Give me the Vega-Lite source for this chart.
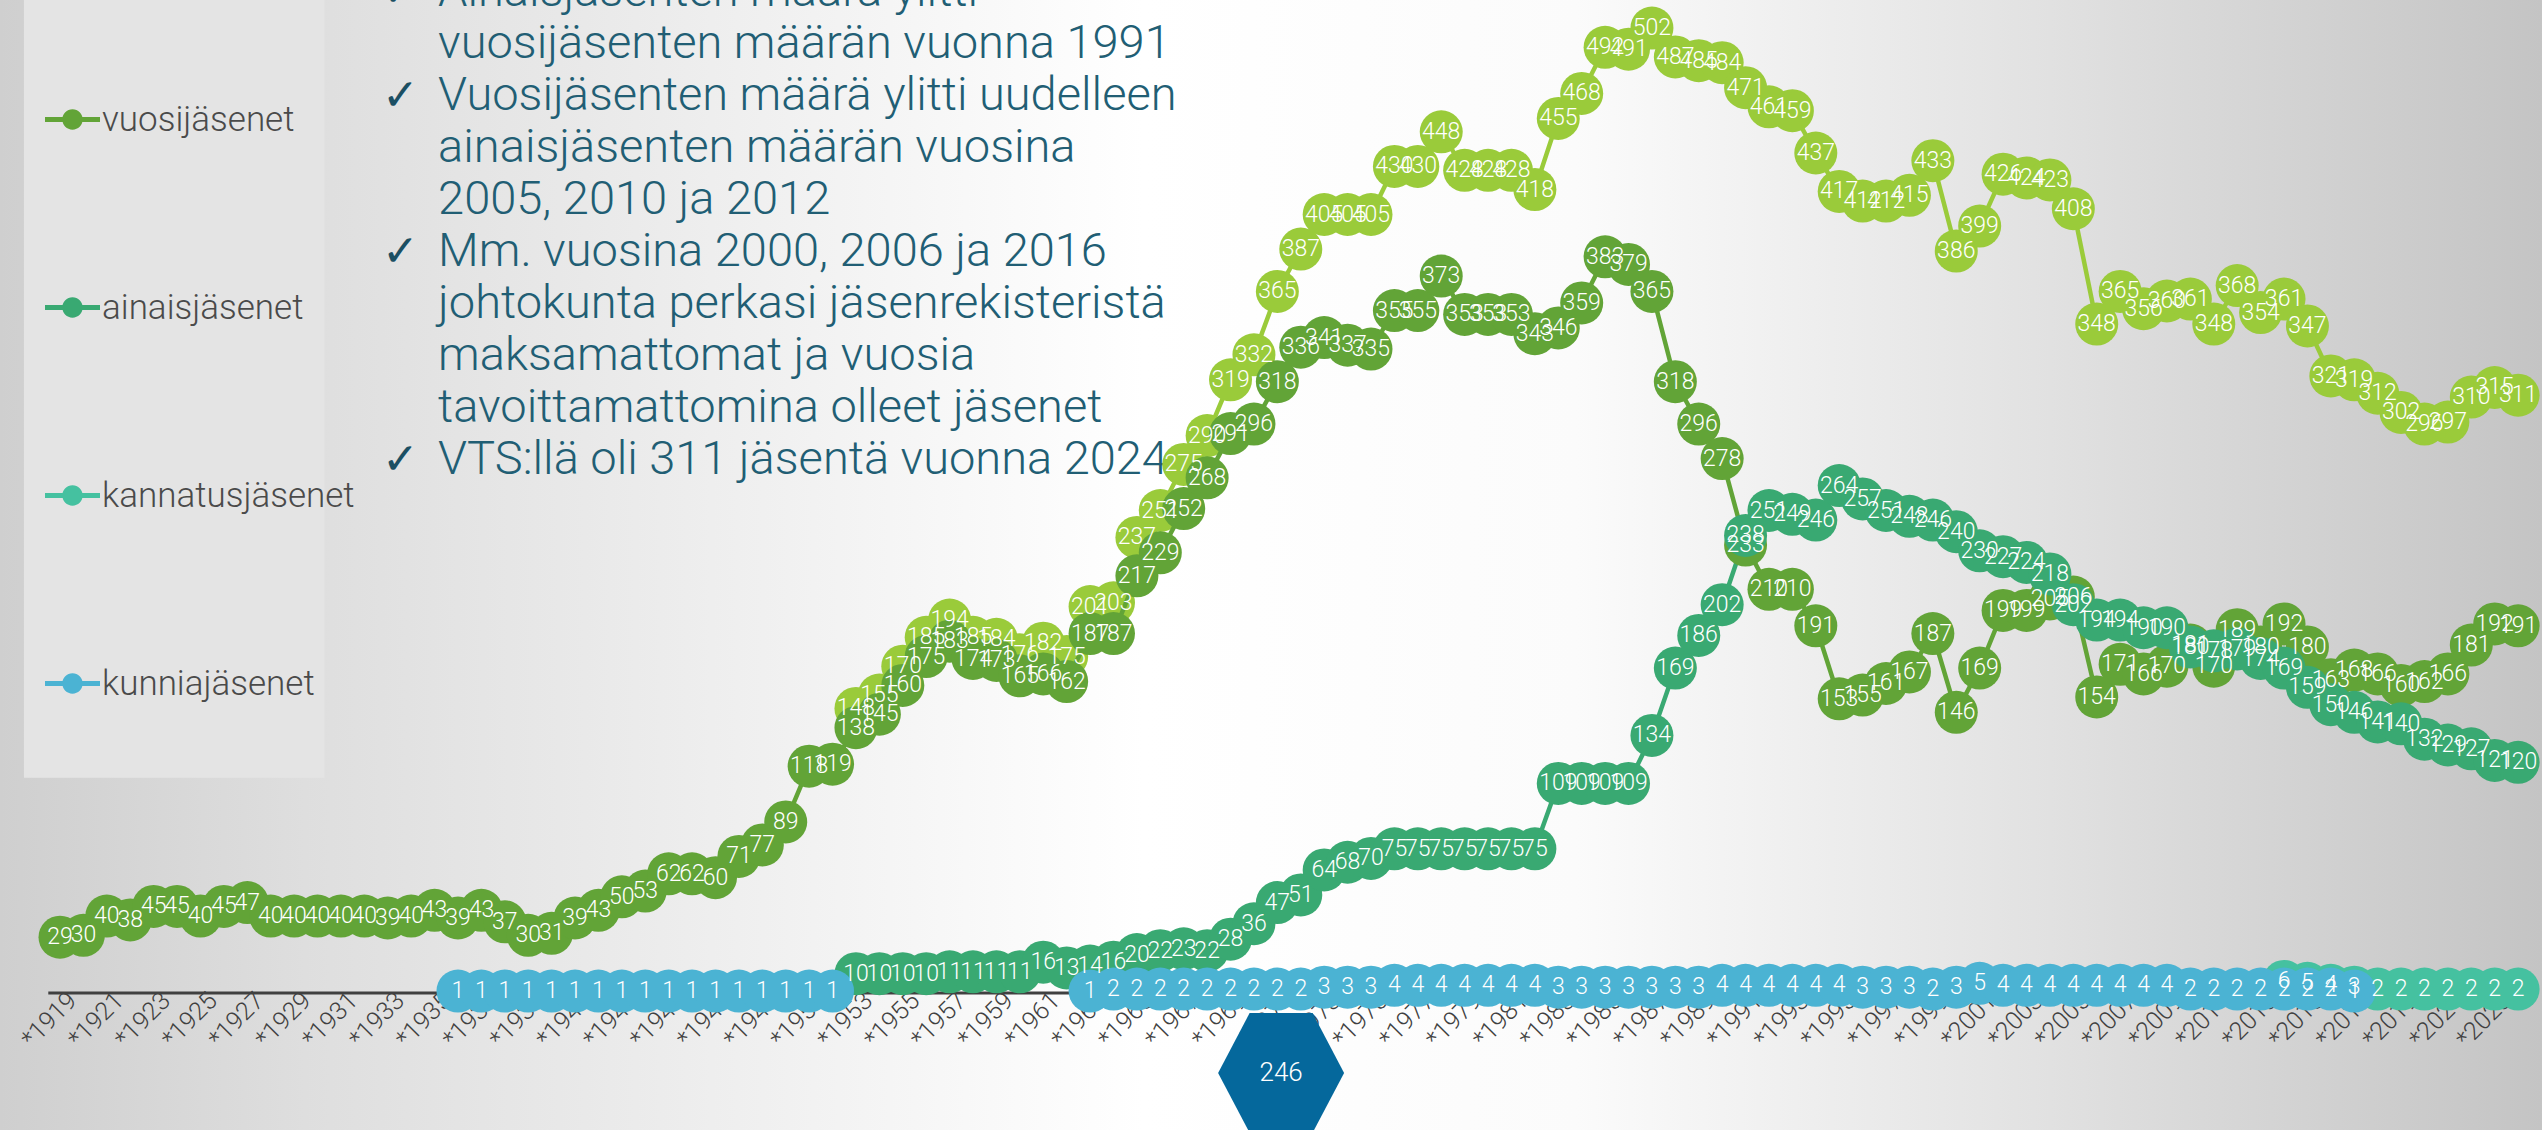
{
  "$schema": "https://vega.github.io/schema/vega-lite/v6.json",
  "width": 2542,
  "height": 1130,
  "autosize": {"type": "none"},
  "padding": 0,
  "background": "#d9d9d9",
  "config": {
    "view": {
      "stroke": null,
      "fill": {
        "gradient": "linear", "x1": 0, "y1": 0, "x2": 1, "y2": 0,
        "stops": [
          {"offset": 0, "color": "#cfcfcf"},
          {"offset": 0.12, "color": "#dedede"},
          {"offset": 0.3, "color": "#f0f0f0"},
          {"offset": 0.45, "color": "#ffffff"},
          {"offset": 0.62, "color": "#fbfbfb"},
          {"offset": 0.8, "color": "#e2e2e2"},
          {"offset": 1, "color": "#c4c4c4"}
        ]
      }
    },
    "font": "Roboto"
  },
  "datasets": {
    "members": [
      {"year":1919,"series":"vuosijäsenet","count":29},{"year":1920,"series":"vuosijäsenet","count":30},{"year":1921,"series":"vuosijäsenet","count":40},{"year":1922,"series":"vuosijäsenet","count":38},{"year":1923,"series":"vuosijäsenet","count":45},{"year":1924,"series":"vuosijäsenet","count":45},{"year":1925,"series":"vuosijäsenet","count":40},{"year":1926,"series":"vuosijäsenet","count":45},{"year":1927,"series":"vuosijäsenet","count":47},{"year":1928,"series":"vuosijäsenet","count":40},{"year":1929,"series":"vuosijäsenet","count":40},{"year":1930,"series":"vuosijäsenet","count":40},{"year":1931,"series":"vuosijäsenet","count":40},{"year":1932,"series":"vuosijäsenet","count":40},{"year":1933,"series":"vuosijäsenet","count":39},{"year":1934,"series":"vuosijäsenet","count":40},
      {"year":1935,"series":"vuosijäsenet","count":43},{"year":1936,"series":"vuosijäsenet","count":39},{"year":1937,"series":"vuosijäsenet","count":43},{"year":1938,"series":"vuosijäsenet","count":37},{"year":1939,"series":"vuosijäsenet","count":30},{"year":1940,"series":"vuosijäsenet","count":31},{"year":1941,"series":"vuosijäsenet","count":39},{"year":1942,"series":"vuosijäsenet","count":43},{"year":1943,"series":"vuosijäsenet","count":50},{"year":1944,"series":"vuosijäsenet","count":53},{"year":1945,"series":"vuosijäsenet","count":62},{"year":1946,"series":"vuosijäsenet","count":62},{"year":1947,"series":"vuosijäsenet","count":60},{"year":1948,"series":"vuosijäsenet","count":71},{"year":1949,"series":"vuosijäsenet","count":77},{"year":1950,"series":"vuosijäsenet","count":89},{"year":1951,"series":"vuosijäsenet","count":118},{"year":1952,"series":"vuosijäsenet","count":119},
      {"year":1953,"series":"vuosijäsenet","count":138},{"year":1954,"series":"vuosijäsenet","count":145},{"year":1955,"series":"vuosijäsenet","count":160},{"year":1956,"series":"vuosijäsenet","count":175},{"year":1957,"series":"vuosijäsenet","count":183},{"year":1958,"series":"vuosijäsenet","count":174},{"year":1959,"series":"vuosijäsenet","count":173},{"year":1960,"series":"vuosijäsenet","count":165},{"year":1961,"series":"vuosijäsenet","count":166},{"year":1962,"series":"vuosijäsenet","count":162},
      {"year":1963,"series":"vuosijäsenet","count":187},{"year":1964,"series":"vuosijäsenet","count":187},{"year":1965,"series":"vuosijäsenet","count":217},{"year":1966,"series":"vuosijäsenet","count":229},{"year":1967,"series":"vuosijäsenet","count":252},{"year":1968,"series":"vuosijäsenet","count":268},{"year":1969,"series":"vuosijäsenet","count":291},{"year":1970,"series":"vuosijäsenet","count":296},{"year":1971,"series":"vuosijäsenet","count":318},{"year":1972,"series":"vuosijäsenet","count":336},
      {"year":1973,"series":"vuosijäsenet","count":341},{"year":1974,"series":"vuosijäsenet","count":337},{"year":1975,"series":"vuosijäsenet","count":335},{"year":1976,"series":"vuosijäsenet","count":355},{"year":1977,"series":"vuosijäsenet","count":355},{"year":1978,"series":"vuosijäsenet","count":373},{"year":1979,"series":"vuosijäsenet","count":353},{"year":1980,"series":"vuosijäsenet","count":353},{"year":1981,"series":"vuosijäsenet","count":353},{"year":1982,"series":"vuosijäsenet","count":343},
      {"year":1983,"series":"vuosijäsenet","count":346},{"year":1984,"series":"vuosijäsenet","count":359},{"year":1985,"series":"vuosijäsenet","count":383},{"year":1986,"series":"vuosijäsenet","count":379},{"year":1987,"series":"vuosijäsenet","count":365},{"year":1988,"series":"vuosijäsenet","count":318},{"year":1989,"series":"vuosijäsenet","count":296},{"year":1990,"series":"vuosijäsenet","count":278},{"year":1991,"series":"vuosijäsenet","count":233},{"year":1992,"series":"vuosijäsenet","count":210},
      {"year":1993,"series":"vuosijäsenet","count":210},{"year":1994,"series":"vuosijäsenet","count":191},{"year":1995,"series":"vuosijäsenet","count":153},{"year":1996,"series":"vuosijäsenet","count":155},{"year":1997,"series":"vuosijäsenet","count":161},{"year":1998,"series":"vuosijäsenet","count":167},{"year":1999,"series":"vuosijäsenet","count":187},{"year":2000,"series":"vuosijäsenet","count":146},{"year":2001,"series":"vuosijäsenet","count":169},{"year":2002,"series":"vuosijäsenet","count":199},
      {"year":2003,"series":"vuosijäsenet","count":199},{"year":2004,"series":"vuosijäsenet","count":205},{"year":2005,"series":"vuosijäsenet","count":206},{"year":2006,"series":"vuosijäsenet","count":154},{"year":2007,"series":"vuosijäsenet","count":171},{"year":2008,"series":"vuosijäsenet","count":166},{"year":2009,"series":"vuosijäsenet","count":170},{"year":2010,"series":"vuosijäsenet","count":181},{"year":2011,"series":"vuosijäsenet","count":170},{"year":2012,"series":"vuosijäsenet","count":189},
      {"year":2013,"series":"vuosijäsenet","count":180},{"year":2014,"series":"vuosijäsenet","count":192},{"year":2015,"series":"vuosijäsenet","count":180},{"year":2016,"series":"vuosijäsenet","count":163},{"year":2017,"series":"vuosijäsenet","count":168},{"year":2018,"series":"vuosijäsenet","count":166},{"year":2019,"series":"vuosijäsenet","count":160},{"year":2020,"series":"vuosijäsenet","count":162},{"year":2021,"series":"vuosijäsenet","count":166},{"year":2022,"series":"vuosijäsenet","count":181},{"year":2023,"series":"vuosijäsenet","count":192},{"year":2024,"series":"vuosijäsenet","count":191},

      {"year":1953,"series":"ainaisjäsenet","count":10},{"year":1954,"series":"ainaisjäsenet","count":10},{"year":1955,"series":"ainaisjäsenet","count":10},{"year":1956,"series":"ainaisjäsenet","count":10},{"year":1957,"series":"ainaisjäsenet","count":11},{"year":1958,"series":"ainaisjäsenet","count":11},{"year":1959,"series":"ainaisjäsenet","count":11},{"year":1960,"series":"ainaisjäsenet","count":11},{"year":1961,"series":"ainaisjäsenet","count":16},{"year":1962,"series":"ainaisjäsenet","count":13},
      {"year":1963,"series":"ainaisjäsenet","count":14},{"year":1964,"series":"ainaisjäsenet","count":16},{"year":1965,"series":"ainaisjäsenet","count":20},{"year":1966,"series":"ainaisjäsenet","count":22},{"year":1967,"series":"ainaisjäsenet","count":23},{"year":1968,"series":"ainaisjäsenet","count":22},{"year":1969,"series":"ainaisjäsenet","count":28},{"year":1970,"series":"ainaisjäsenet","count":36},{"year":1971,"series":"ainaisjäsenet","count":47},{"year":1972,"series":"ainaisjäsenet","count":51},
      {"year":1973,"series":"ainaisjäsenet","count":64},{"year":1974,"series":"ainaisjäsenet","count":68},{"year":1975,"series":"ainaisjäsenet","count":70},{"year":1976,"series":"ainaisjäsenet","count":75},{"year":1977,"series":"ainaisjäsenet","count":75},{"year":1978,"series":"ainaisjäsenet","count":75},{"year":1979,"series":"ainaisjäsenet","count":75},{"year":1980,"series":"ainaisjäsenet","count":75},{"year":1981,"series":"ainaisjäsenet","count":75},{"year":1982,"series":"ainaisjäsenet","count":75},
      {"year":1983,"series":"ainaisjäsenet","count":109},{"year":1984,"series":"ainaisjäsenet","count":109},{"year":1985,"series":"ainaisjäsenet","count":109},{"year":1986,"series":"ainaisjäsenet","count":109},{"year":1987,"series":"ainaisjäsenet","count":134},{"year":1988,"series":"ainaisjäsenet","count":169},{"year":1989,"series":"ainaisjäsenet","count":186},{"year":1990,"series":"ainaisjäsenet","count":202},{"year":1991,"series":"ainaisjäsenet","count":238},{"year":1992,"series":"ainaisjäsenet","count":251},
      {"year":1993,"series":"ainaisjäsenet","count":249},{"year":1994,"series":"ainaisjäsenet","count":246},{"year":1995,"series":"ainaisjäsenet","count":264},{"year":1996,"series":"ainaisjäsenet","count":257},{"year":1997,"series":"ainaisjäsenet","count":251},{"year":1998,"series":"ainaisjäsenet","count":248},{"year":1999,"series":"ainaisjäsenet","count":246},{"year":2000,"series":"ainaisjäsenet","count":240},{"year":2001,"series":"ainaisjäsenet","count":230},{"year":2002,"series":"ainaisjäsenet","count":227},
      {"year":2003,"series":"ainaisjäsenet","count":224},{"year":2004,"series":"ainaisjäsenet","count":218},{"year":2005,"series":"ainaisjäsenet","count":202},{"year":2006,"series":"ainaisjäsenet","count":194},{"year":2007,"series":"ainaisjäsenet","count":194},{"year":2008,"series":"ainaisjäsenet","count":190},{"year":2009,"series":"ainaisjäsenet","count":190},{"year":2010,"series":"ainaisjäsenet","count":180},{"year":2011,"series":"ainaisjäsenet","count":178},{"year":2012,"series":"ainaisjäsenet","count":179},
      {"year":2013,"series":"ainaisjäsenet","count":174},{"year":2014,"series":"ainaisjäsenet","count":169},{"year":2015,"series":"ainaisjäsenet","count":159},{"year":2016,"series":"ainaisjäsenet","count":150},{"year":2017,"series":"ainaisjäsenet","count":146},{"year":2018,"series":"ainaisjäsenet","count":141},{"year":2019,"series":"ainaisjäsenet","count":140},{"year":2020,"series":"ainaisjäsenet","count":132},{"year":2021,"series":"ainaisjäsenet","count":129},{"year":2022,"series":"ainaisjäsenet","count":127},{"year":2023,"series":"ainaisjäsenet","count":121},{"year":2024,"series":"ainaisjäsenet","count":120},

      {"year":2014,"series":"kannatusjäsenet","count":6},{"year":2015,"series":"kannatusjäsenet","count":5},{"year":2016,"series":"kannatusjäsenet","count":4},{"year":2017,"series":"kannatusjäsenet","count":3},{"year":2018,"series":"kannatusjäsenet","count":2},{"year":2019,"series":"kannatusjäsenet","count":2},{"year":2020,"series":"kannatusjäsenet","count":2},{"year":2021,"series":"kannatusjäsenet","count":2},{"year":2022,"series":"kannatusjäsenet","count":2},{"year":2023,"series":"kannatusjäsenet","count":2},{"year":2024,"series":"kannatusjäsenet","count":2},

      {"year":1936,"series":"kunniajäsenet","count":1},{"year":1937,"series":"kunniajäsenet","count":1},{"year":1938,"series":"kunniajäsenet","count":1},{"year":1939,"series":"kunniajäsenet","count":1},{"year":1940,"series":"kunniajäsenet","count":1},{"year":1941,"series":"kunniajäsenet","count":1},{"year":1942,"series":"kunniajäsenet","count":1},{"year":1943,"series":"kunniajäsenet","count":1},{"year":1944,"series":"kunniajäsenet","count":1},{"year":1945,"series":"kunniajäsenet","count":1},{"year":1946,"series":"kunniajäsenet","count":1},{"year":1947,"series":"kunniajäsenet","count":1},{"year":1948,"series":"kunniajäsenet","count":1},{"year":1949,"series":"kunniajäsenet","count":1},{"year":1950,"series":"kunniajäsenet","count":1},{"year":1951,"series":"kunniajäsenet","count":1},{"year":1952,"series":"kunniajäsenet","count":1},
      {"year":1953,"series":"kunniajäsenet","count":null},{"year":1954,"series":"kunniajäsenet","count":null},{"year":1955,"series":"kunniajäsenet","count":null},{"year":1956,"series":"kunniajäsenet","count":null},{"year":1957,"series":"kunniajäsenet","count":null},{"year":1958,"series":"kunniajäsenet","count":null},{"year":1959,"series":"kunniajäsenet","count":null},{"year":1960,"series":"kunniajäsenet","count":null},{"year":1961,"series":"kunniajäsenet","count":null},{"year":1962,"series":"kunniajäsenet","count":null},
      {"year":1963,"series":"kunniajäsenet","count":1},{"year":1964,"series":"kunniajäsenet","count":2},{"year":1965,"series":"kunniajäsenet","count":2},{"year":1966,"series":"kunniajäsenet","count":2},{"year":1967,"series":"kunniajäsenet","count":2},{"year":1968,"series":"kunniajäsenet","count":2},{"year":1969,"series":"kunniajäsenet","count":2},{"year":1970,"series":"kunniajäsenet","count":2},{"year":1971,"series":"kunniajäsenet","count":2},{"year":1972,"series":"kunniajäsenet","count":2},
      {"year":1973,"series":"kunniajäsenet","count":3},{"year":1974,"series":"kunniajäsenet","count":3},{"year":1975,"series":"kunniajäsenet","count":3},{"year":1976,"series":"kunniajäsenet","count":4},{"year":1977,"series":"kunniajäsenet","count":4},{"year":1978,"series":"kunniajäsenet","count":4},{"year":1979,"series":"kunniajäsenet","count":4},{"year":1980,"series":"kunniajäsenet","count":4},{"year":1981,"series":"kunniajäsenet","count":4},{"year":1982,"series":"kunniajäsenet","count":4},
      {"year":1983,"series":"kunniajäsenet","count":3},{"year":1984,"series":"kunniajäsenet","count":3},{"year":1985,"series":"kunniajäsenet","count":3},{"year":1986,"series":"kunniajäsenet","count":3},{"year":1987,"series":"kunniajäsenet","count":3},{"year":1988,"series":"kunniajäsenet","count":3},{"year":1989,"series":"kunniajäsenet","count":3},{"year":1990,"series":"kunniajäsenet","count":4},{"year":1991,"series":"kunniajäsenet","count":4},{"year":1992,"series":"kunniajäsenet","count":4},
      {"year":1993,"series":"kunniajäsenet","count":4},{"year":1994,"series":"kunniajäsenet","count":4},{"year":1995,"series":"kunniajäsenet","count":4},{"year":1996,"series":"kunniajäsenet","count":3},{"year":1997,"series":"kunniajäsenet","count":3},{"year":1998,"series":"kunniajäsenet","count":3},{"year":1999,"series":"kunniajäsenet","count":2},{"year":2000,"series":"kunniajäsenet","count":3},{"year":2001,"series":"kunniajäsenet","count":5},{"year":2002,"series":"kunniajäsenet","count":4},
      {"year":2003,"series":"kunniajäsenet","count":4},{"year":2004,"series":"kunniajäsenet","count":4},{"year":2005,"series":"kunniajäsenet","count":4},{"year":2006,"series":"kunniajäsenet","count":4},{"year":2007,"series":"kunniajäsenet","count":4},{"year":2008,"series":"kunniajäsenet","count":4},{"year":2009,"series":"kunniajäsenet","count":4},{"year":2010,"series":"kunniajäsenet","count":2},{"year":2011,"series":"kunniajäsenet","count":2},{"year":2012,"series":"kunniajäsenet","count":2},
      {"year":2013,"series":"kunniajäsenet","count":2},{"year":2014,"series":"kunniajäsenet","count":2},{"year":2015,"series":"kunniajäsenet","count":2},{"year":2016,"series":"kunniajäsenet","count":2},{"year":2017,"series":"kunniajäsenet","count":1}
    ],
    "total": [
      {"year":1953,"count":148},{"year":1954,"count":155},{"year":1955,"count":170},{"year":1956,"count":185},{"year":1957,"count":194},{"year":1958,"count":185},{"year":1959,"count":184},{"year":1960,"count":176},{"year":1961,"count":182},{"year":1962,"count":175},
      {"year":1963,"count":201},{"year":1964,"count":203},{"year":1965,"count":237},{"year":1966,"count":251},{"year":1967,"count":275},{"year":1968,"count":290},{"year":1969,"count":319},{"year":1970,"count":332},{"year":1971,"count":365},{"year":1972,"count":387},
      {"year":1973,"count":405},{"year":1974,"count":405},{"year":1975,"count":405},{"year":1976,"count":430},{"year":1977,"count":430},{"year":1978,"count":448},{"year":1979,"count":428},{"year":1980,"count":428},{"year":1981,"count":428},{"year":1982,"count":418},
      {"year":1983,"count":455},{"year":1984,"count":468},{"year":1985,"count":492},{"year":1986,"count":491},{"year":1987,"count":502},{"year":1988,"count":487},{"year":1989,"count":485},{"year":1990,"count":484},{"year":1991,"count":471},{"year":1992,"count":461},
      {"year":1993,"count":459},{"year":1994,"count":437},{"year":1995,"count":417},{"year":1996,"count":412},{"year":1997,"count":412},{"year":1998,"count":415},{"year":1999,"count":433},{"year":2000,"count":386},{"year":2001,"count":399},{"year":2002,"count":426},
      {"year":2003,"count":424},{"year":2004,"count":423},{"year":2005,"count":408},{"year":2006,"count":348},{"year":2007,"count":365},{"year":2008,"count":356},{"year":2009,"count":360},{"year":2010,"count":361},{"year":2011,"count":348},{"year":2012,"count":368},
      {"year":2013,"count":354},{"year":2014,"count":361},{"year":2015,"count":347},{"year":2016,"count":321},{"year":2017,"count":319},{"year":2018,"count":312},{"year":2019,"count":302},{"year":2020,"count":296},{"year":2021,"count":297},{"year":2022,"count":310},{"year":2023,"count":315},{"year":2024,"count":311}
    ]
  },
  "layer": [
    {
      "data": {"values": [{}]},
      "mark": {"type": "rect", "color": "#e4e4e4"},
      "encoding": {
        "x": {
          "datum": 1917.46, "type": "quantitative",
          "scale": {"domain": [1916.437, 2025.02], "nice": false, "zero": false},
          "axis": {
            "title": null,
            "values": [1919,1921,1923,1925,1927,1929,1931,1933,1935,1937,1939,1941,1943,1945,1947,1949,1951,1953,1955,1957,1959,1961,1963,1965,1967,1969,1971,1973,1975,1977,1979,1981,1983,1985,1987,1989,1991,1993,1995,1997,1999,2001,2003,2005,2007,2009,2011,2013,2015,2017,2019,2021,2023],
            "labelExpr": "'*' + datum.value",
            "labelAngle": -45,
            "labelAlign": "right",
            "labelBaseline": "middle",
            "labelFontSize": 25,
            "labelFont": "Roboto",
            "labelFontWeight": 300,
            "labelColor": "#404040",
            "labelPadding": 3,
            "labelOffset": 12,
            "labelOverlap": false,
            "labelFlush": false,
            "labelBound": false,
            "ticks": false,
            "domain": false,
            "grid": false,
            "offset": -137
          }
        },
        "x2": {"datum": 1930.3},
        "y": {
          "datum": 530, "type": "quantitative",
          "scale": {"domain": [-71.3, 516.6], "nice": false, "zero": false},
          "axis": null
        },
        "y2": {"datum": 112}
      }
    },
    {
      "data": {"values": [{}]},
      "mark": {"type": "rule", "color": "#404040", "strokeWidth": 3},
      "encoding": {
        "x": {"datum": 1918.5, "type": "quantitative"},
        "x2": {"datum": 2024.5},
        "y": {"datum": 0, "type": "quantitative"}
      }
    },
    {
      "data": {"values": [{}]},
      "mark": {
        "type": "text",
        "text": ["Ainaisjäsenten määrä ylitti", "vuosijäsenten määrän vuonna 1991", "Vuosijäsenten määrä ylitti uudelleen", "ainaisjäsenten määrän vuosina", "2005, 2010 ja 2012", "Mm. vuosina 2000, 2006 ja 2016", "johtokunta perkasi jäsenrekisteristä", "maksamattomat ja vuosia", "tavoittamattomina olleet jäsenet", "VTS:llä oli 311 jäsentä vuonna 2024"],
        "align": "left",
        "baseline": "alphabetic",
        "lineHeight": 52,
        "font": "Roboto",
        "fontWeight": 300,
        "fontSize": 47,
        "color": "#215e74"
      },
      "encoding": {
        "x": {"datum": 1935.15, "type": "quantitative"},
        "y": {"datum": 513.5, "type": "quantitative"}
      }
    },
    {
      "data": {"values": [{"mark": "✓"}]},
      "mark": {"type": "text", "align": "left", "baseline": "alphabetic", "font": "DejaVu Sans", "fontSize": 44, "color": "#1b4f63"},
      "encoding": {
        "x": {"datum": 1932.75, "type": "quantitative"},
        "y": {"datum": 513.5, "type": "quantitative"},
        "text": {"field": "mark", "type": "nominal"}
      }
    },
    {
      "data": {"values": [{"mark": "✓"}]},
      "mark": {"type": "text", "align": "left", "baseline": "alphabetic", "font": "DejaVu Sans", "fontSize": 44, "color": "#1b4f63"},
      "encoding": {
        "x": {"datum": 1932.75, "type": "quantitative"},
        "y": {"datum": 459.39, "type": "quantitative"},
        "text": {"field": "mark", "type": "nominal"}
      }
    },
    {
      "data": {"values": [{"mark": "✓"}]},
      "mark": {"type": "text", "align": "left", "baseline": "alphabetic", "font": "DejaVu Sans", "fontSize": 44, "color": "#1b4f63"},
      "encoding": {
        "x": {"datum": 1932.75, "type": "quantitative"},
        "y": {"datum": 378.23, "type": "quantitative"},
        "text": {"field": "mark", "type": "nominal"}
      }
    },
    {
      "data": {"values": [{"mark": "✓"}]},
      "mark": {"type": "text", "align": "left", "baseline": "alphabetic", "font": "DejaVu Sans", "fontSize": 44, "color": "#1b4f63"},
      "encoding": {
        "x": {"datum": 1932.75, "type": "quantitative"},
        "y": {"datum": 270.01, "type": "quantitative"},
        "text": {"field": "mark", "type": "nominal"}
      }
    },
    {
      "data": {"name": "total"},
      "mark": {"type": "line", "color": "#9acb3a", "strokeWidth": 4.5},
      "encoding": {
        "x": {"field": "year", "type": "quantitative"},
        "y": {"field": "count", "type": "quantitative"}
      }
    },
    {
      "data": {"name": "total"},
      "mark": {"type": "point", "shape": "circle", "filled": true, "opacity": 1, "size": 1849, "color": "#9acb3a"},
      "encoding": {
        "x": {"field": "year", "type": "quantitative"},
        "y": {"field": "count", "type": "quantitative"}
      }
    },
    {
      "data": {"name": "members"},
      "mark": {"type": "line", "strokeWidth": 4.5, "invalid": "break-paths-show-domains"},
      "encoding": {
        "x": {"field": "year", "type": "quantitative"},
        "y": {"field": "count", "type": "quantitative"},
        "color": {
          "field": "series", "type": "nominal",
          "scale": {"domain": ["vuosijäsenet", "ainaisjäsenet", "kannatusjäsenet", "kunniajäsenet"], "range": ["#62a437", "#39a972", "#45c1a0", "#4bb3d3"]},
          "legend": {
            "orient": "none",
            "legendX": 45,
            "legendY": 92,
            "title": null,
            "direction": "vertical",
            "padding": 0,
            "symbolType": "M-1,-0.09H1V0.09H-1Z M-0.37,0A0.37,0.37 0 1,1 0.37,0A0.37,0.37 0 1,1 -0.37,0Z",
            "symbolSize": 3025,
            "symbolStrokeWidth": 0,
            "symbolOpacity": 1,
            "labelFontSize": 35,
            "labelFont": "Roboto",
            "labelFontWeight": 300,
            "labelColor": "#4a4a4a",
            "labelOffset": 2,
            "labelLimit": 400,
            "rowPadding": 142
          }
        }
      }
    },
    {
      "data": {"name": "members"},
      "mark": {"type": "point", "shape": "circle", "filled": true, "opacity": 1, "size": 1849},
      "encoding": {
        "x": {"field": "year", "type": "quantitative"},
        "y": {"field": "count", "type": "quantitative"},
        "color": {
          "field": "series", "type": "nominal",
          "legend": {
            "orient": "none",
            "legendX": 45,
            "legendY": 92,
            "title": null,
            "direction": "vertical",
            "padding": 0,
            "symbolType": "M-1,-0.09H1V0.09H-1Z M-0.37,0A0.37,0.37 0 1,1 0.37,0A0.37,0.37 0 1,1 -0.37,0Z",
            "symbolSize": 3025,
            "symbolStrokeWidth": 0,
            "symbolOpacity": 1,
            "labelFontSize": 35,
            "labelFont": "Roboto",
            "labelFontWeight": 300,
            "labelColor": "#4a4a4a",
            "labelOffset": 2,
            "labelLimit": 400,
            "rowPadding": 142
          }
        }
      }
    },
    {
      "data": {"name": "total"},
      "mark": {"type": "text", "color": "#ffffff", "fontSize": 23, "font": "Roboto", "fontWeight": 300, "align": "center", "baseline": "middle"},
      "encoding": {
        "x": {"field": "year", "type": "quantitative"},
        "y": {"field": "count", "type": "quantitative"},
        "text": {"field": "count", "type": "quantitative"}
      }
    },
    {
      "data": {"name": "members"},
      "mark": {"type": "text", "color": "#ffffff", "fontSize": 23, "font": "Roboto", "fontWeight": 300, "align": "center", "baseline": "middle"},
      "encoding": {
        "x": {"field": "year", "type": "quantitative"},
        "y": {"field": "count", "type": "quantitative"},
        "text": {"field": "count", "type": "quantitative"}
      }
    },
    {
      "data": {"values": [{"page": "246"}]},
      "mark": {"type": "point", "shape": "M-1,0L-0.5,-0.95L0.5,-0.95L1,0L0.5,0.95L-0.5,0.95Z", "filled": true, "opacity": 1, "size": 15876, "color": "#05689c"},
      "encoding": {
        "x": {"datum": 1971.16, "type": "quantitative"},
        "y": {"datum": -41.6, "type": "quantitative"}
      }
    },
    {
      "data": {"values": [{"page": "246"}]},
      "mark": {"type": "text", "color": "#ffffff", "fontSize": 26, "font": "Roboto", "fontWeight": 300, "align": "center", "baseline": "middle"},
      "encoding": {
        "x": {"datum": 1971.16, "type": "quantitative"},
        "y": {"datum": -41.6, "type": "quantitative"},
        "text": {"field": "page", "type": "nominal"}
      }
    }
  ]
}
